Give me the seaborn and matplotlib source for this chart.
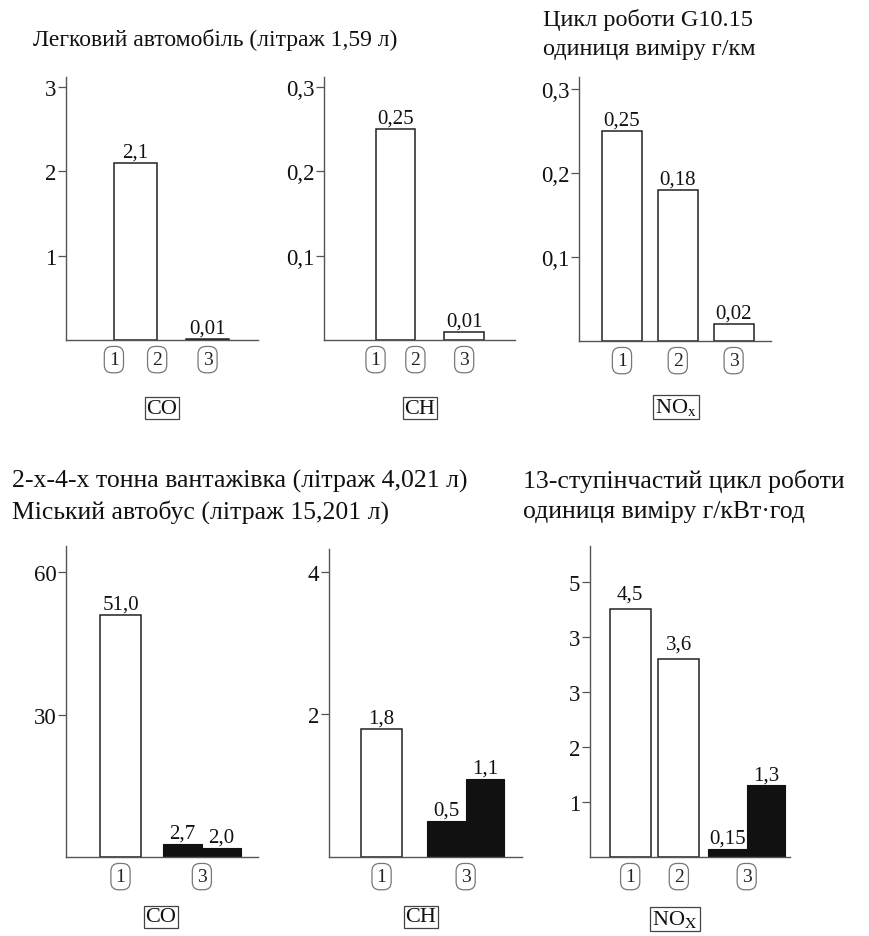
import matplotlib
matplotlib.use("Agg")
import matplotlib.pyplot as plt
import seaborn as sns
import pandas as pd

sns.set_theme(style="white")
plt.rcParams['font.family'] = ['Liberation Serif', 'DejaVu Serif']
plt.rcParams['mathtext.fontset'] = 'stix'

# ---------------- data ----------------
# Top row: passenger car, cycle G10.15, g/km
car_co_groups = ["1-2", "3"]
car_co_values = [2.1, 0.01]
car_co_labels = ["2,1", "0,01"]

car_ch_groups = ["1-2", "3"]
car_ch_values = [0.25, 0.01]
car_ch_labels = ["0,25", "0,01"]

car_nox_groups = ["1", "2", "3"]
car_nox_values = [0.25, 0.18, 0.02]
car_nox_labels = ["0,25", "0,18", "0,02"]

# Bottom row: truck / city bus, 13-mode cycle, g/kWh
series_names = ["вантажівка", "автобус"]

heavy_co_white_groups = ["1"]
heavy_co_white_values = [51.0]
heavy_co_white_labels = ["51,0"]
heavy_co_black_values = [2.7, 2.0]
heavy_co_black_labels = ["2,7", "2,0"]

heavy_ch_white_groups = ["1"]
heavy_ch_white_values = [1.8]
heavy_ch_white_labels = ["1,8"]
heavy_ch_black_values = [0.5, 1.1]
heavy_ch_black_labels = ["0,5", "1,1"]

heavy_nox_white_names = ["1", "2"]
heavy_nox_white_values = [4.5, 3.6]
heavy_nox_white_labels = ["4,5", "3,6"]
heavy_nox_black_values = [0.15, 1.3]
heavy_nox_black_labels = ["0,15", "1,3"]

# tick labels
yt_car_co = [1, 2, 3];            yl_car_co = ["1", "2", "3"]
yt_car_small = [0.1, 0.2, 0.3];   yl_car_small = ["0,1", "0,2", "0,3"]
yt_heavy_co = [30, 60];           yl_heavy_co = ["30", "60"]
yt_heavy_ch = [2, 4];             yl_heavy_ch = ["2", "4"]
yt_heavy_nox = [1, 2, 3, 4, 5];   yl_heavy_nox = ["1", "2", "3", "3", "5"]

# ---------------- layout ----------------
W, H = 870, 937
fig = plt.figure(figsize=(W / 100, H / 100), dpi=100)
EDGE = "#222222"
BLACK = "#111111"
AXC = "#555555"
VAL_FS = 15
TICK_FS = 16.5

def make_ax(L, R, T, B):
    return fig.add_axes([L / W, 1 - B / H, (R - L) / W, (B - T) / H])

def style(ax, yticks, ylabels, ytop, xlim, xpos, xlabels):
    ax.set_ylim(0, ytop)
    ax.set_xlim(*xlim)
    ax.set_yticks(yticks, ylabels)
    ax.set_xticks(xpos, xlabels)
    ax.set_xlabel("")
    ax.set_ylabel("")
    sns.despine(ax=ax)
    for s in ("left", "bottom"):
        ax.spines[s].set_color(AXC)
        ax.spines[s].set_linewidth(1.0)
    ax.tick_params(axis="y", left=True, length=6, width=0.9, color=AXC,
                   labelsize=TICK_FS, pad=1, labelcolor="#111")
    ax.tick_params(axis="x", bottom=False, length=0, labelsize=14, pad=8,
                   labelcolor="#222")
    for lbl in ax.get_xticklabels():
        lbl.set_bbox(dict(boxstyle="round,pad=0.24,rounding_size=0.4",
                          fc="white", ec="#777", lw=0.9))

def white_bars(ax, groups, values, labels, order, width):
    df = pd.DataFrame({"group": groups, "value": values})
    n0 = len(ax.containers)
    sns.barplot(data=df, x="group", y="value", order=order, width=width,
                color="white", edgecolor=EDGE, linewidth=1.1, saturation=1,
                errorbar=None, ax=ax)
    for c in ax.containers[n0:]:
        ax.bar_label(c, labels=labels, padding=1, fontsize=VAL_FS, color="#111")

def black_pair(ax, group, values, labels, order, width):
    df = pd.DataFrame({"group": [group] * len(values), "value": values,
                       "series": series_names})
    n0 = len(ax.containers)
    sns.barplot(data=df, x="group", y="value", hue="series", order=order,
                hue_order=series_names, palette=[BLACK, BLACK], width=width,
                dodge=True, edgecolor=BLACK, linewidth=0.8, saturation=1,
                errorbar=None, legend=False, ax=ax)
    for c, lab in zip(ax.containers[n0:], labels):
        ax.bar_label(c, labels=[lab], padding=1, fontsize=VAL_FS, color="#111")

# Panel 1: car CO
ax1 = make_ax(66, 258, 78, 341)
white_bars(ax1, car_co_groups, car_co_values, car_co_labels, car_co_groups, 0.6)
style(ax1, yt_car_co, yl_car_co, 3.12, (-0.965, 1.70), [-0.3, 0.3, 1], ["1", "2", "3"])

# Panel 2: car CH
ax2 = make_ax(324, 515, 78, 341)
white_bars(ax2, car_ch_groups, car_ch_values, car_ch_labels, car_ch_groups, 0.58)
style(ax2, yt_car_small, yl_car_small, 0.312, (-1.04, 1.74), [-0.29, 0.29, 1], ["1", "2", "3"])

# Panel 3: car NOx
ax3 = make_ax(579, 771, 78, 342)
white_bars(ax3, car_nox_groups, car_nox_values, car_nox_labels, car_nox_groups, 0.72)
style(ax3, yt_car_small, yl_car_small, 0.314, (-0.77, 2.67), [0, 1, 2], ["1", "2", "3"])

# Panel 4: heavy CO
order4 = ["1", "3"]
ax4 = make_ax(66, 258, 547, 858)
white_bars(ax4, heavy_co_white_groups, heavy_co_white_values, heavy_co_white_labels, order4, 0.5)
black_pair(ax4, "3", heavy_co_black_values, heavy_co_black_labels, order4, 0.96)
style(ax4, yt_heavy_co, yl_heavy_co, 65.5, (-0.67, 1.69), [0, 1], ["1", "3"])

# Panel 5: heavy CH
order5 = ["1", "3"]
ax5 = make_ax(329, 522, 550, 858)
white_bars(ax5, heavy_ch_white_groups, heavy_ch_white_values, heavy_ch_white_labels, order5, 0.49)
black_pair(ax5, "3", heavy_ch_black_values, heavy_ch_black_labels, order5, 0.92)
style(ax5, yt_heavy_ch, yl_heavy_ch, 4.32, (-0.625, 1.67), [0, 1], ["1", "3"])

# Panel 6: heavy NOx (white pair 1,2 grouped, black pair at 3)
order6 = ["1-2", "3"]
ax6 = make_ax(590, 790, 547, 858)
df6 = pd.DataFrame({"group": ["1-2"] * 2, "value": heavy_nox_white_values,
                    "name": heavy_nox_white_names})
n0 = len(ax6.containers)
sns.barplot(data=df6, x="group", y="value", hue="name", order=order6,
            hue_order=heavy_nox_white_names, palette=["white", "white"],
            width=1.055, gap=0.16, dodge=True, edgecolor=EDGE, linewidth=1.1,
            saturation=1, errorbar=None, legend=False, ax=ax6)
for c, lab in zip(ax6.containers[n0:], heavy_nox_white_labels):
    ax6.bar_label(c, labels=[lab], padding=4, fontsize=VAL_FS, color="#111")
black_pair(ax6, "3", heavy_nox_black_values, heavy_nox_black_labels, order6, 0.84)
style(ax6, yt_heavy_nox, yl_heavy_nox, 5.65, (-0.70, 1.47), [-0.264, 0.264, 1], ["1", "2", "3"])

# ---------------- titles ----------------
def ftext(x, y, s, size):
    fig.text(x / W, 1 - y / H, s, va="center", ha="left", fontsize=size, color="#111")

ftext(33, 40, "Легковий автомобіль (літраж 1,59 л)", 17)
ftext(543, 20, "Цикл роботи G10.15", 17.5)
ftext(543, 50, "одиниця виміру г/км", 17.5)
ftext(12, 481, "2-х-4-х тонна вантажівка (літраж 4,021 л)", 18.5)
ftext(12, 512, "Міський автобус (літраж 15,201 л)", 18.5)
ftext(523, 481, "13-ступінчастий цикл роботи", 18.5)
ftext(523, 512, "одиниця виміру г/кВт·год", 18.5)

box = dict(boxstyle="square,pad=0.08", fc="white", ec="#444", lw=0.9)
def pollutant(x, y, s):
    fig.text(x / W, 1 - y / H, s, va="center", ha="center", fontsize=16,
             color="#111", bbox=box)

pollutant(162, 409, "CO")
pollutant(420, 409, "CH")
pollutant(676, 408, r"NO$_{\mathrm{x}}$")
pollutant(161, 918, "CO")
pollutant(421, 918, "CH")
pollutant(675, 920, r"NO$_{\mathrm{X}}$")

fig.savefig("out.png", dpi=100, facecolor="white")
